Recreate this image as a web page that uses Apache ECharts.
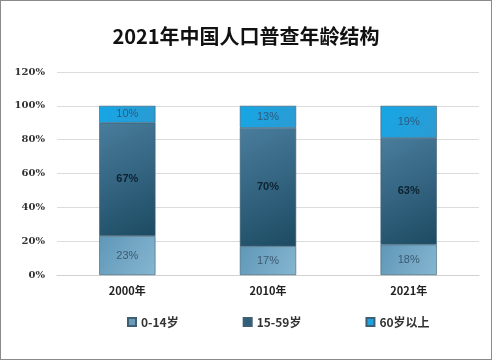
<!DOCTYPE html>
<html><head><meta charset="utf-8">
<script src="https://cdn.jsdelivr.net/npm/echarts@6/dist/echarts.min.js"></script>
<style>html,body{margin:0;padding:0;background:#fff}
#c{width:490px;height:358px;border:1px solid #8a8a8a}</style>
</head><body><div id="c"></div>
<script>
const categories = ['2000年','2010年','2021年'];
const seriesNames = ['0-14岁','15-59岁','60岁以上'];
const age0to14 = [23,17,18];
const age15to59 = [67,70,63];
const age60plus = [10,13,19];
const yTicks = [0,20,40,60,80,100,120];

const chart = echarts.init(document.getElementById('c'));
function grad(a,b){return new echarts.graphic.LinearGradient(0,0,1,1,[{offset:0,color:a},{offset:1,color:b}]);}
const colors=[grad('#5f97b8','#86b6d0'),grad('#4a7d9d','#1c4a62'),grad('#16a6e6','#2b9bd2')];
const legendColors=['#6a9cb8','#2f5f7a','#1fa3de'];
const labelStyles=[
 {color:'#3c5a70',fontSize:11,fontWeight:'normal'},
 {color:'#0e2130',fontSize:11,fontWeight:'bold'},
 {color:'#2c5b80',fontSize:11,fontWeight:'normal'}];
const datas=[age0to14,age15to59,age60plus];
chart.setOption({
 animation:false,
 title:{text:'2021年中国人口普查年龄结构',left:'center',top:20,
  textStyle:{fontFamily:'Noto Sans CJK SC',fontSize:20,fontWeight:'bold',color:'#111'}},
 grid:{left:56,right:12,top:71,bottom:84,containLabel:false},
 legend:{top:310,left:121,itemGap:64,itemWidth:8,itemHeight:8,icon:'rect',
  textStyle:{fontSize:12,fontWeight:'bold',color:'#333',fontFamily:'Noto Sans CJK SC'},
  data:seriesNames.map((n,i)=>({name:n,itemStyle:{color:legendColors[i]}}))},
 xAxis:{type:'category',data:categories,axisLine:{show:true,lineStyle:{color:'#d0d0d0'}},axisTick:{show:false},
  axisLabel:{margin:10,fontSize:11,fontWeight:'bold',color:'#222',fontFamily:'Noto Sans CJK SC'}},
 yAxis:{type:'value',min:0,max:120,interval:20,
  axisLabel:{formatter:v=>v+'%',fontSize:10,fontWeight:'bold',color:'#333',margin:12,fontFamily:'DejaVu Serif'},
  axisLine:{show:false},axisTick:{show:false},splitLine:{lineStyle:{color:'#dcdcdc'}}},
 series:datas.map((d,i)=>({name:seriesNames[i],type:'bar',stack:'all',barWidth:'40%',data:d,
  itemStyle:{color:colors[i],borderColor:'#3f5f74',borderWidth:0.6},
  label:{show:true,position:'inside',formatter:'{c}%',...labelStyles[i]}}))
});
</script></body></html>
